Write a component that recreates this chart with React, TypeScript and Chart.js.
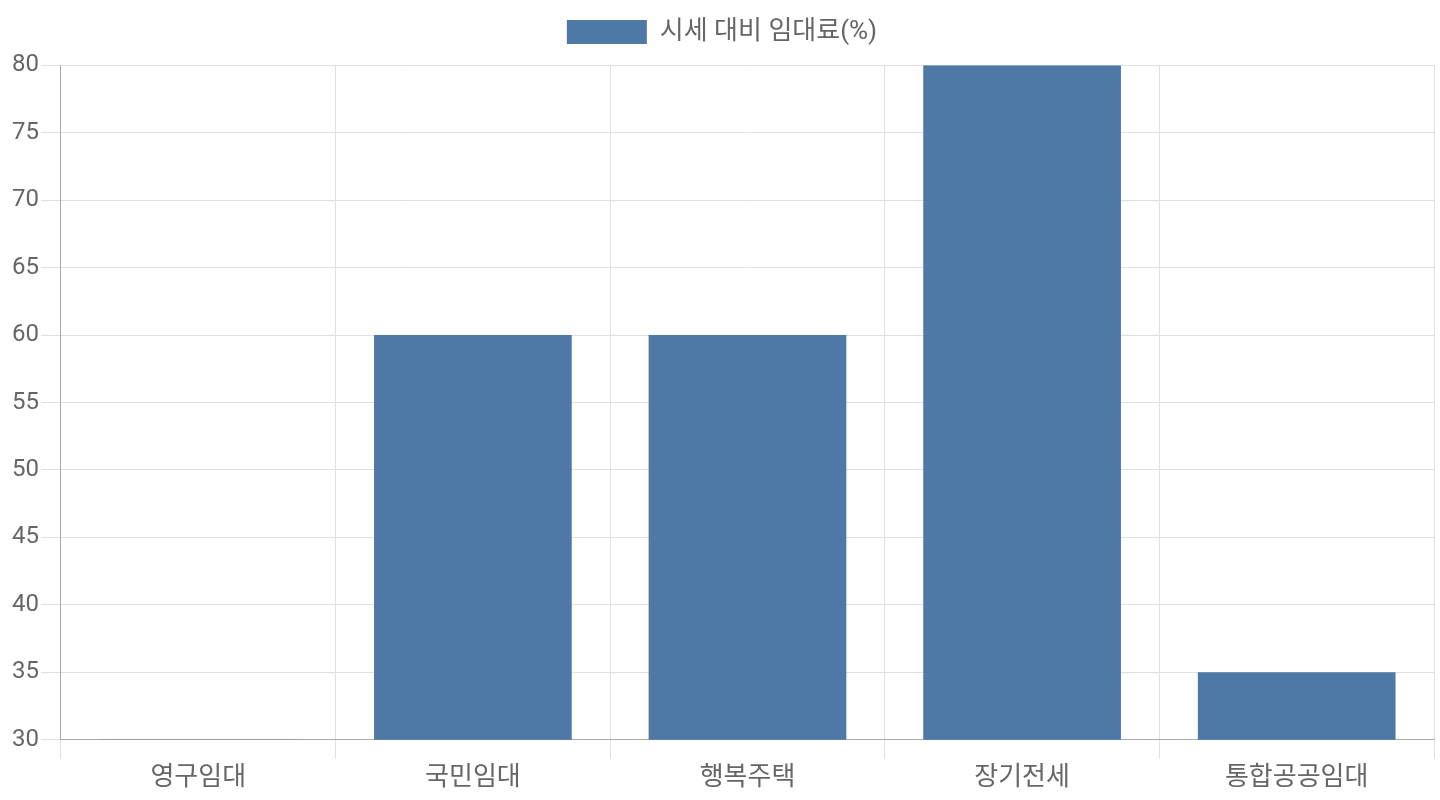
import React, { useEffect, useRef } from "react";
import { Chart, registerables } from "chart.js";

Chart.register(...registerables);

const categories = ["영구임대", "국민임대", "행복주택", "장기전세", "통합공공임대"];
const rentRatio = [30, 60, 60, 80, 35];
const seriesLabel = "시세 대비 임대료(%)";

export default function App() {
  const ref = useRef<HTMLCanvasElement | null>(null);
  useEffect(() => {
    document.body.style.margin = "0";
    const family = "Roboto, 'Noto Sans CJK KR', sans-serif";
    const tickFont = { family, size: 24 };
    const labelFont = { family, size: 26 };
    const chart = new Chart(ref.current as HTMLCanvasElement, {
      type: "bar",
      data: {
        labels: categories,
        datasets: [
          {
            label: seriesLabel,
            data: rentRatio,
            backgroundColor: "#4e79a7",
            borderWidth: 0,
            inflateAmount: 0,
          },
        ],
      },
      options: {
        animation: false,
        responsive: true,
        maintainAspectRatio: false,
        layout: { padding: { left: 10, right: 6, top: -1, bottom: 2 } },
        plugins: {
          legend: {
            display: true,
            labels: { boxWidth: 80, boxHeight: 24, font: labelFont, color: "#666", padding: 20 },
          },
          title: {
            display: true,
            text: "",
            weight: 500,
            font: { size: 1 },
            padding: { top: 0, bottom: 9 },
          },
          tooltip: { enabled: false },
        },
        scales: {
          x: {
            grid: { color: "#e0e0e0", tickLength: 19, offset: true },
            border: { color: "#aaa" },
            ticks: { font: labelFont, color: "#666", padding: 4 },
          },
          y: {
            min: 30,
            max: 80,
            grid: { color: "#e0e0e0", tickLength: 20 },
            border: { color: "#aaa" },
            ticks: { font: tickFont, color: "#666", stepSize: 5, padding: 2 },
          },
        },
      },
    });
    return () => chart.destroy();
  }, []);
  return (
    <div style={{ width: 1440, height: 800, position: "relative" }}>
      <canvas ref={ref} />
    </div>
  );
}
